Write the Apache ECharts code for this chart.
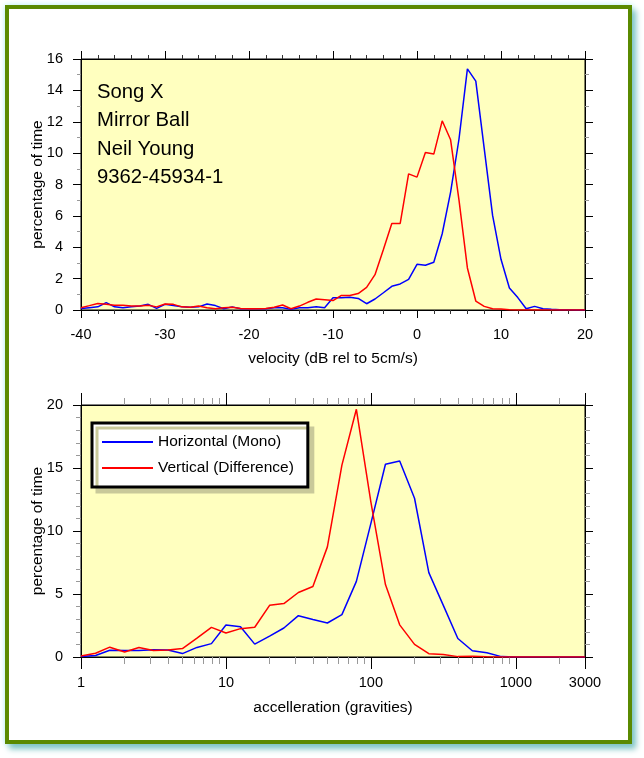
<!DOCTYPE html>
<html>
<head>
<meta charset="utf-8">
<script src="https://cdn.jsdelivr.net/npm/echarts@6/dist/echarts.min.js"></script>
<style>
html,body{margin:0;padding:0;background:#fff;width:644px;height:758px;overflow:hidden;}
#frame{position:absolute;left:5px;top:5px;width:619px;height:731px;border:4px solid #5a8a00;background:#fff;
box-shadow:4px 5px 6px #7fc4c4, 0 0 6px #b8f4f4;}
#chart{position:absolute;left:0;top:0;width:644px;height:758px;}
</style>
</head>
<body>
<div id="frame"></div>
<div id="chart"></div>
<script>
// ---- Data ----
const velX = [-40,-39,-38,-37,-36,-35,-34,-33,-32,-31,-30,-29,-28,-27,-26,-25,-24,-23,-22,-21,
  -20,-19,-18,-17,-16,-15,-14,-13,-12,-11,-10,-9,-8,-7,-6,-5,-4,-3,-2,-1,
  0,1,2,3,4,5,6,7,8,9,10,11,12,13,14,15,16,17,18,19,20];
const velHorizontal = [0.1,0.15,0.2,0.47,0.2,0.15,0.2,0.25,0.36,0.1,0.36,0.28,0.2,0.17,0.2,0.38,0.28,0.08,0.2,0.08,
  0.08,0.08,0.08,0.15,0.15,0.04,0.15,0.15,0.2,0.15,0.78,0.78,0.82,0.74,0.4,0.7,1.1,1.51,1.66,1.95,
  2.91,2.85,3.04,4.86,7.52,10.9,15.37,14.59,10.3,6.03,3.23,1.4,0.79,0.08,0.23,0.08,0.04,0.02,0.01,0,0];
const velVertical = [0.15,0.28,0.42,0.36,0.3,0.3,0.25,0.25,0.3,0.2,0.38,0.36,0.2,0.17,0.25,0.15,0.08,0.15,0.17,0.1,
  0.08,0.08,0.1,0.17,0.32,0.08,0.25,0.49,0.7,0.66,0.6,0.93,0.93,1.05,1.44,2.25,3.86,5.52,5.52,8.68,
  8.47,10.04,9.94,12.06,10.85,7.0,2.68,0.57,0.23,0.08,0.06,0.02,0,0,0,0,0,0,0,0,0];

const accX = [1,1.26,1.58,2,2.51,3.16,3.98,5.01,6.31,7.94,
  10,12.6,15.8,20,25.1,31.6,39.8,50.1,63.1,79.4,
  100,126,158,200,251,316,398,501,631,794,
  1000,1259,1585,1995,2512,3000];
const accHorizontal = [0.03,0.12,0.54,0.52,0.52,0.58,0.55,0.27,0.76,1.06,
  2.54,2.4,1.02,1.65,2.3,3.28,2.97,2.7,3.36,6.0,
  10.6,15.3,15.55,12.6,6.7,4.1,1.47,0.5,0.33,0.03,
  0,0,0,0,0,0];
const accVertical = [0.08,0.3,0.78,0.4,0.76,0.52,0.56,0.67,1.5,2.35,
  1.9,2.25,2.36,4.1,4.24,5.12,5.6,8.74,15.23,19.66,
  12.3,5.75,2.55,1.0,0.26,0.2,0.03,0.05,0.02,0,
  0,0,0,0,0,0];

const accMinorTicks = [2,3,4,5,6,7,8,9,20,30,40,50,60,70,80,90,200,300,400,500,600,700,800,900,2000];
const infoLines = ['Song X','Mirror Ball','Neil Young','9362-45934-1'];
const seriesNames = ['Horizontal (Mono)','Vertical (Difference)'];

// ---- Chart ----
const FONT = '"Liberation Sans", Arial, Helvetica, sans-serif';
const BLUE = '#0000ff', RED = '#ff0000';
const chart = echarts.init(document.getElementById('chart'), null, {renderer:'canvas'});

function valAxisBase(extra){
  return Object.assign({
    splitLine:{show:false},
    axisLine:{show:true, onZero:false, lineStyle:{color:'#000', width:1}},
    axisTick:{show:true, length:8, lineStyle:{color:'#000'}},
    axisLabel:{fontFamily:FONT, fontSize:14.5, color:'#000'}
  }, extra);
}
const nameStyle = {fontFamily:FONT, fontSize:15.5, color:'#000'};
const minorLog = accMinorTicks.map(v => Math.log10(v));
const logMax = Math.log10(3000);

const option = {
  animation:false,
  backgroundColor:'transparent',
  grid:[
    {left:81, top:59, width:504, height:251, show:true, backgroundColor:'#ffffbf', borderColor:'#000', borderWidth:1},
    {left:81, top:405, width:504, height:252, show:true, backgroundColor:'#ffffbf', borderColor:'#000', borderWidth:1}
  ],
  xAxis:[
    valAxisBase({gridIndex:0, type:'value', position:'bottom', min:-40, max:20, interval:10,
      minorTick:{show:true, splitNumber:5, length:4, lineStyle:{color:'#333'}},
      axisLabel:{fontFamily:FONT, fontSize:14.5, color:'#000', margin:17},
      name:'velocity (dB rel to 5cm/s)', nameLocation:'middle', nameGap:41, nameTextStyle:nameStyle}),
    valAxisBase({gridIndex:0, type:'value', position:'top', min:-40, max:20, interval:10,
      minorTick:{show:true, splitNumber:5, length:4, lineStyle:{color:'#333'}},
      axisLabel:{show:false}}),
    valAxisBase({gridIndex:1, type:'log', logBase:10, position:'bottom', min:1, max:3000,
      axisTick:{show:true, length:12, lineStyle:{color:'#000'}},
      axisLabel:{fontFamily:FONT, fontSize:14.5, color:'#000', margin:18, formatter:v => String(v)},
      name:'accelleration (gravities)', nameLocation:'middle', nameGap:43, nameTextStyle:nameStyle}),
    {gridIndex:1, type:'value', position:'bottom', min:0, max:logMax,
      splitLine:{show:false}, axisLine:{show:false, onZero:false}, axisLabel:{show:false},
      axisTick:{show:true, customValues:minorLog, length:7, lineStyle:{color:'#999'}}},
    valAxisBase({gridIndex:1, type:'log', logBase:10, position:'top', min:1, max:3000,
      axisTick:{show:true, length:12, lineStyle:{color:'#000'}},
      axisLabel:{show:false}}),
    {gridIndex:1, type:'value', position:'top', min:0, max:logMax,
      splitLine:{show:false}, axisLine:{show:false, onZero:false}, axisLabel:{show:false},
      axisTick:{show:true, customValues:minorLog, length:7, lineStyle:{color:'#999'}}}
  ],
  yAxis:[
    valAxisBase({gridIndex:0, type:'value', position:'left', min:0, max:16, interval:2,
      minorTick:{show:true, splitNumber:2, length:4, lineStyle:{color:'#999'}},
      axisLabel:{fontFamily:FONT, fontSize:14.5, color:'#000', margin:18},
      name:'percentage of time', nameLocation:'middle', nameGap:35, nameRotate:90,
      nameMoveOverlap:false, nameTextStyle:nameStyle}),
    valAxisBase({gridIndex:0, type:'value', position:'right', min:0, max:16, interval:2,
      minorTick:{show:true, splitNumber:2, length:4, lineStyle:{color:'#999'}},
      axisLabel:{show:false}}),
    valAxisBase({gridIndex:1, type:'value', position:'left', min:0, max:20, interval:5,
      minorTick:{show:true, splitNumber:5, length:5, lineStyle:{color:'#999'}},
      axisLabel:{fontFamily:FONT, fontSize:14.5, color:'#000', margin:18},
      name:'percentage of time', nameLocation:'middle', nameGap:35, nameRotate:90,
      nameMoveOverlap:false, nameTextStyle:nameStyle}),
    valAxisBase({gridIndex:1, type:'value', position:'right', min:0, max:20, interval:5,
      minorTick:{show:true, splitNumber:5, length:5, lineStyle:{color:'#999'}},
      axisLabel:{show:false}})
  ],
  legend:{
    data:seriesNames, orient:'vertical', left:92, top:423,
    backgroundColor:'#fff', borderColor:'#000', borderWidth:3, borderRadius:0,
    padding:[11,14,11,10], itemGap:10, itemWidth:51, itemHeight:2, icon:'rect',
    textStyle:{fontFamily:FONT, fontSize:15.5, color:'#000'},
    shadowColor:'#c9c99a', shadowBlur:0, shadowOffsetX:5, shadowOffsetY:5,
    selectedMode:false
  },
  graphic: infoLines.map((t,i) => ({
    type:'text', x:97, y:92 + i*28.5, z:100,
    style:{text:t, fontFamily:FONT, fontSize:20.3, fill:'#000', verticalAlign:'middle'}
  })),
  series:[
    {name:seriesNames[0], type:'line', xAxisIndex:0, yAxisIndex:0, symbol:'none',
      lineStyle:{color:BLUE, width:1.5}, itemStyle:{color:BLUE},
      data:velX.map((x,i) => [x, velHorizontal[i]])},
    {name:seriesNames[1], type:'line', xAxisIndex:0, yAxisIndex:0, symbol:'none',
      lineStyle:{color:RED, width:1.5}, itemStyle:{color:RED},
      data:velX.map((x,i) => [x, velVertical[i]])},
    {name:seriesNames[0], type:'line', xAxisIndex:2, yAxisIndex:2, symbol:'none',
      lineStyle:{color:BLUE, width:1.5}, itemStyle:{color:BLUE},
      data:accX.map((x,i) => [x, accHorizontal[i]])},
    {name:seriesNames[1], type:'line', xAxisIndex:2, yAxisIndex:2, symbol:'none',
      lineStyle:{color:RED, width:1.5}, itemStyle:{color:RED},
      data:accX.map((x,i) => [x, accVertical[i]])}
  ]
};
chart.setOption(option);
</script>
</body>
</html>
